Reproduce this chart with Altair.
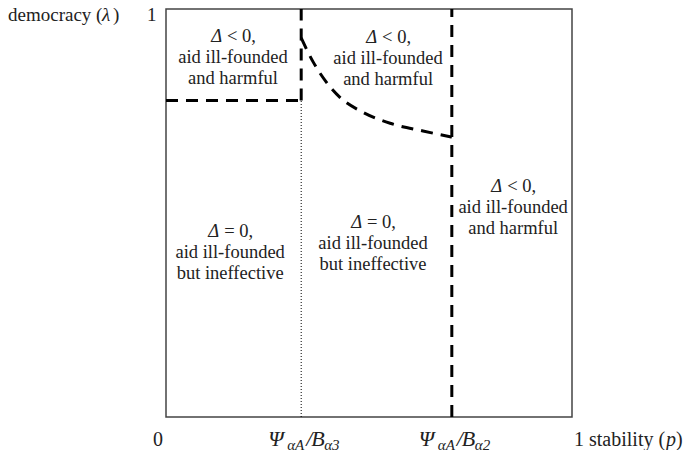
import altair as alt
import pandas as pd

# ---- data (axes: stability p in [0,1], democracy lambda in [0,1]) ----
p_thresh3 = 0.333          # Psi_aA / B_a3
p_thresh2 = 0.704          # Psi_aA / B_a2
lam_left = 0.776           # horizontal boundary, left region

curve_p = [0.333, 0.362, 0.394, 0.429, 0.485, 0.552, 0.633, 0.704]
curve_lam = [0.929, 0.871, 0.822, 0.783, 0.747, 0.720, 0.701, 0.686]

region_x = [0.165, 0.547, 0.855, 0.158, 0.510]
region_y = [0.934, 0.932, 0.567, 0.457, 0.479]
region_sign = ["< 0,", "< 0,", "< 0,", "= 0,", "= 0,"]
region_line2 = ["aid ill-founded"] * 5
region_line3 = ["and harmful", "and harmful", "and harmful",
                "but ineffective", "but ineffective"]

xtick_pos = [p_thresh3, p_thresh2]
xtick_sub = ["α3", "α2"]

SERIF = "Liberation Serif"
INK = "#222"
xs = alt.Scale(domain=[0, 1], nice=False, zero=False)
ys = alt.Scale(domain=[0, 1], nice=False, zero=False)

X = lambda f: alt.X(f, type="quantitative", scale=xs, axis=None)
Y = lambda f: alt.Y(f, type="quantitative", scale=ys, axis=None)

# ---- boundary segments ----
dashed = pd.DataFrame({
    "x": [0, p_thresh3, p_thresh2],
    "x2": [p_thresh3, p_thresh3, p_thresh2],
    "y": [lam_left, lam_left, 0],
    "y2": [lam_left, 1, 1],
})
dotted = pd.DataFrame({"x": [p_thresh3], "y": [0], "y2": [lam_left]})

dash_layer = alt.Chart(dashed).mark_rule(
    color="black", strokeWidth=3, strokeDash=[12, 8]
).encode(x=X("x"), x2="x2", y=Y("y"), y2="y2")

dot_layer = alt.Chart(dotted).mark_rule(
    color="black", strokeWidth=1, strokeDash=[1, 2]
).encode(x=X("x"), y=Y("y"), y2="y2")

curve_df = pd.DataFrame({"x": curve_p, "y": curve_lam, "i": range(len(curve_p))})
curve_layer = alt.Chart(curve_df).mark_line(
    color="black", strokeWidth=3, strokeDash=[12, 8], interpolate="monotone"
).encode(x=X("x"), y=Y("y"), order="i:Q")

# ---- region labels ----
reg = pd.DataFrame({"x": region_x, "y": region_y, "s": region_sign,
                    "l2": region_line2, "l3": region_line3, "d": ["Δ"] * 5})


def txt(df, field, **kw):
    base = dict(font=SERIF, fontSize=18.5, color=INK)
    base.update(kw)
    return alt.Chart(df).mark_text(**base).encode(
        x=X("x"), y=Y("y"), text=alt.Text(field)
    )


reg_layers = [
    txt(reg, "d", align="right", baseline="middle", dx=-11, fontStyle="italic"),
    txt(reg, "s", align="left", baseline="middle", dx=-6),
    txt(reg, "l2", align="center", baseline="middle", dy=21),
    txt(reg, "l3", align="center", baseline="middle", dy=42),
]


def fixed(df, text, size, dx, dy, align="left", italic=False):
    kw = dict(font=SERIF, fontSize=size, color=INK, align=align,
              baseline="alphabetic", dx=dx, dy=dy, text=text)
    if italic:
        kw["fontStyle"] = "italic"
    return alt.Chart(df).mark_text(**kw).encode(x=X("x"), y=Y("y"))


# ---- axis-like labels ----
one = pd.DataFrame({"x": [0], "y": [1]})
zero = pd.DataFrame({"x": [0], "y": [0]})
right = pd.DataFrame({"x": [1], "y": [0]})

ylab = [
    fixed(one, "democracy (", 19, -158, 12),
    fixed(one, "λ", 19, -64, 12, italic=True),
    fixed(one, ")", 19, -53, 12),
    fixed(one, "1", 19, -19, 12),
]

xlab = [
    fixed(zero, "0", 20, -8, 29, align="center"),
    fixed(right, "1 stability (", 20, 2, 29),
    fixed(right, "p", 20, 94, 29, italic=True),
    fixed(right, ")", 20, 104, 29),
]

ticks = pd.DataFrame({"x": xtick_pos, "y": [0, 0], "sub": xtick_sub})
xlab += [
    fixed(ticks, "Ψ", 22, -33, 29, italic=True),
    fixed(ticks, "αA", 15, -14, 33, italic=True),
    fixed(ticks, "/", 22, 5, 29, italic=True),
    fixed(ticks, "B", 22, 10, 29, italic=True),
    alt.Chart(ticks).mark_text(font=SERIF, fontSize=15, color=INK, fontStyle="italic",
                               align="left", baseline="alphabetic", dx=23, dy=33)
    .encode(x=X("x"), y=Y("y"), text=alt.Text("sub")),
]

chart = alt.layer(
    dot_layer, dash_layer, curve_layer, *reg_layers, *ylab, *xlab
).properties(
    width=406, height=408,
    autosize=alt.AutoSizeParams(type="none"),
    padding={"left": 158, "top": 1, "right": 113, "bottom": 33},
).configure_view(stroke="#444", strokeWidth=1.5)

chart.save("out.html", embed_options={"renderer": "svg", "actions": False})
